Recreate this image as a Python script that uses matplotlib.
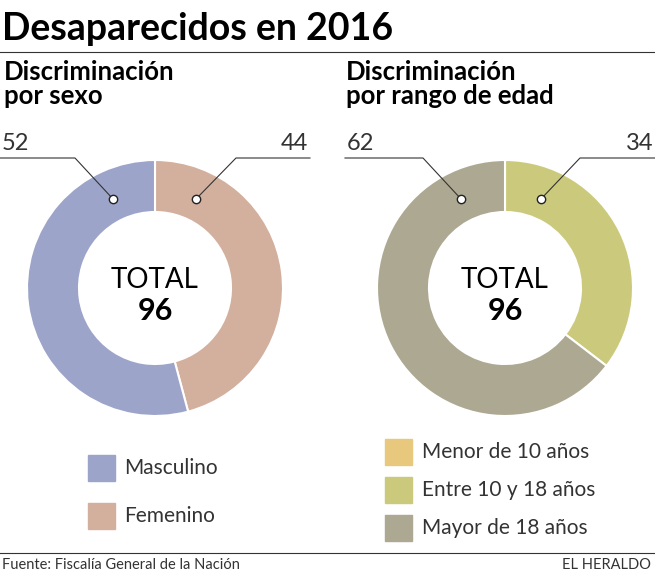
import matplotlib.pyplot as plt
from matplotlib.patches import Rectangle

plt.rcParams['font.family'] = 'Lato'

# Datos
sexo_labels = ['Femenino', 'Masculino']
sexo_values = [44, 52]
sexo_colors = ['#d3af9e', '#9ca4ca']

edad_labels = ['Menor de 10 años', 'Entre 10 y 18 años', 'Mayor de 18 años']
edad_values = [0, 34, 62]
edad_colors = ['#e8c87c', '#cbca7c', '#ada891']

W, H = 655, 573
fig = plt.figure(figsize=(6.55, 5.73), dpi=100)
ax = fig.add_axes([0, 0, 1, 1])

def Y(y):
    return H - y

ax.text(2, Y(29), 'Desaparecidos en 2016', fontsize=27, fontweight='bold', va='center')
ax.plot([0, W], [Y(52), Y(52)], color='#333333', lw=0.8)
ax.text(4, Y(84), 'Discriminación\npor sexo', fontsize=18.5, fontweight='bold', va='center', linespacing=1.0)
ax.text(346, Y(84), 'Discriminación\npor rango de edad', fontsize=18.5, fontweight='bold', va='center', linespacing=1.0)

def donut(cx, vals, cols, total):
    ax.pie(vals, colors=cols, center=(cx, Y(288)), radius=128, startangle=90,
           counterclock=False, wedgeprops=dict(width=52, edgecolor='white', linewidth=1.5),
           frame=True)
    ax.text(cx, Y(280), 'TOTAL', fontsize=20, ha='center', va='center')
    ax.text(cx, Y(311), str(total), fontsize=22, fontweight='bold', ha='center', va='center')

donut(155, sexo_values, sexo_colors, sum(sexo_values))
donut(505, [v for v in edad_values if v > 0], edad_colors[1:], sum(edad_values))
ax.set_xlim(0, W)
ax.set_ylim(0, H)
ax.set_aspect('equal')
ax.axis('off')

def callout(dot, elbow, end, txt, ha):
    ax.plot([dot[0], elbow[0], end], [Y(dot[1]), Y(elbow[1]), Y(elbow[1])], color='#333333', lw=0.8)
    ax.plot(dot[0], Y(dot[1]), 'o', ms=6, mfc='white', mec='#222222', mew=1)
    tx = end + 2 if ha == 'left' else end - 2
    ax.text(tx, Y(143), txt, fontsize=17, ha=ha, va='center', color='#333333')

callout((113, 199), (75, 158), 0, str(sexo_values[1]), 'left')
callout((196, 199), (236, 158), 310, str(sexo_values[0]), 'right')
callout((461, 199), (423, 158), 345, str(edad_values[2]), 'left')
callout((541, 199), (580, 158), 655, str(edad_values[1]), 'right')

for lab, col, y in zip(['Masculino', 'Femenino'], [sexo_colors[1], sexo_colors[0]], [468, 516]):
    ax.add_patch(Rectangle((88, Y(y) - 13), 27, 26, color=col))
    ax.text(124, Y(y), lab, fontsize=15, va='center', color='#333333')
for lab, col, y in zip(edad_labels, edad_colors, [452, 490, 528]):
    ax.add_patch(Rectangle((385, Y(y) - 13), 27, 26, color=col))
    ax.text(422, Y(y), lab, fontsize=15, va='center', color='#333333')

ax.plot([0, W], [Y(553), Y(553)], color='#333333', lw=0.8)
ax.text(2, Y(565), 'Fuente: Fiscalía General de la Nación', fontsize=10.5, va='center', color='#333333')
ax.text(W - 4, Y(565), 'EL HERALDO', fontsize=10.5, va='center', ha='right', color='#333333')

fig.savefig('out.png', dpi=100)
